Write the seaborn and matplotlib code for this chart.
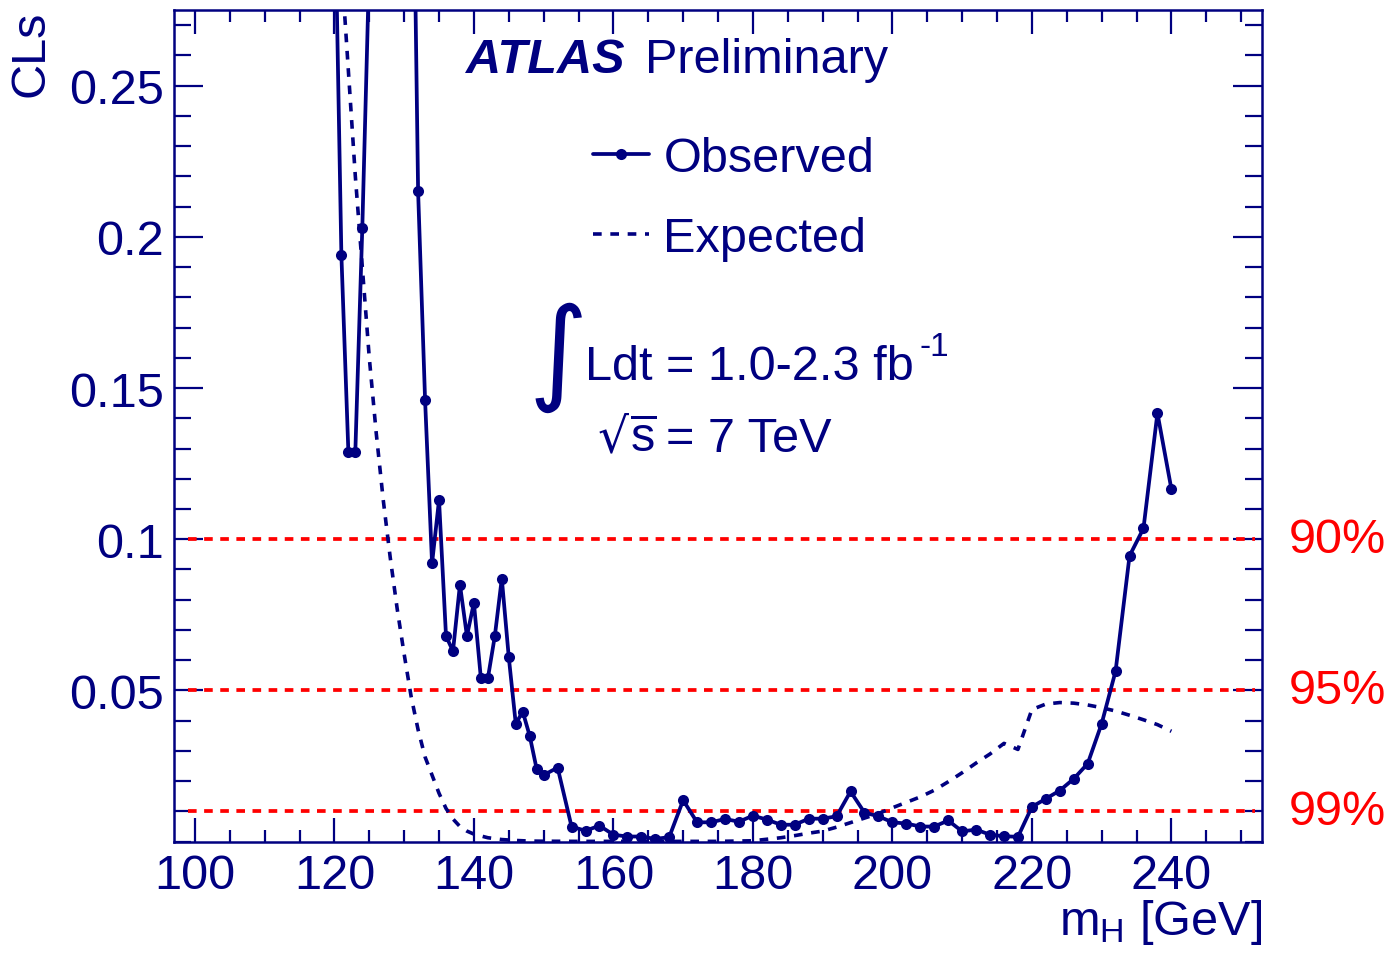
import numpy as np
import pandas as pd
import seaborn as sns
import matplotlib.pyplot as plt
from matplotlib.ticker import MultipleLocator, FixedLocator, FixedFormatter

# observed CLs (1 GeV steps up to 150, then 2 GeV steps)
obs_mass = [120, 121, 122, 123, 124, 125, 126, 127, 128, 129, 130, 131, 132, 133, 134, 135,
            136, 137, 138, 139, 140, 141, 142, 143, 144, 145, 146, 147, 148, 149, 150,
            152, 154, 156, 158, 160, 162, 164, 166, 168, 170, 172, 174, 176, 178, 180,
            182, 184, 186, 188, 190, 192, 194, 196, 198, 200, 202, 204, 206, 208, 210,
            212, 214, 216, 218, 220, 222, 224, 226, 228, 230, 232, 234, 236, 238, 240]
obs_cls = [0.32, 0.194, 0.129, 0.129, 0.203, 0.29, 0.40, 0.50, 0.55, 0.50, 0.45, 0.38, 0.215, 0.146, 0.092, 0.113,
           0.068, 0.063, 0.085, 0.068, 0.079, 0.054, 0.054, 0.068, 0.087, 0.061, 0.039, 0.043, 0.035, 0.024, 0.022,
           0.0245, 0.005, 0.0036, 0.0053, 0.0023, 0.0017, 0.0017, 0.0009, 0.0015, 0.0137, 0.0064, 0.0064, 0.0075, 0.0066, 0.0086,
           0.0073, 0.0056, 0.0056, 0.0076, 0.0076, 0.0084, 0.0166, 0.0096, 0.0084, 0.0064, 0.006, 0.005, 0.005, 0.007, 0.0034,
           0.004, 0.0023, 0.0018, 0.0016, 0.0115, 0.0142, 0.0169, 0.0208, 0.0258, 0.039, 0.0564, 0.0945, 0.1036, 0.1417, 0.1166]

# expected (median) CLs
exp_mass = [118, 120, 121, 122, 123, 124, 125, 126, 127, 128, 129, 130, 131, 132, 133, 134, 135,
            136, 137, 138, 139, 140, 142, 144, 146, 148, 150, 155, 160, 165, 170, 175, 180,
            182, 184, 186, 188, 190, 192, 194, 196, 198, 200, 202, 204, 206, 208, 210,
            212, 214, 216, 218, 220, 222, 224, 226, 228, 230, 232, 234, 236, 238, 240]
exp_cls = [0.45, 0.33, 0.29, 0.255, 0.22, 0.19, 0.16, 0.135, 0.113, 0.094, 0.077, 0.062, 0.048, 0.037, 0.028, 0.022, 0.016,
           0.011, 0.0075, 0.005, 0.0035, 0.0025, 0.0013, 0.0007, 0.0004, 0.0002, 0.00015, 0.0001, 0.0001, 0.0001, 0.0001, 0.0001, 0.0003,
           0.0008, 0.0013, 0.002, 0.0028, 0.0035, 0.0048, 0.0063, 0.0078, 0.0093, 0.0112, 0.013, 0.0148, 0.017, 0.0198, 0.0228,
           0.026, 0.029, 0.0325, 0.0305, 0.0437, 0.0455, 0.046, 0.0458, 0.0452, 0.0443, 0.0432, 0.0418, 0.0403, 0.0387, 0.0365]

cl_levels = [0.1, 0.05, 0.01]
cl_labels = ['90%', '95%', '99%']
y_ticks = [0.05, 0.1, 0.15, 0.2, 0.25]
y_ticklabels = ['0.05', '0.1', '0.15', '0.2', '0.25']

navy = '#000080'

sns.set_theme(style='ticks')
plt.rcParams['font.family'] = ['Liberation Sans', 'DejaVu Sans']
plt.rcParams['mathtext.fontset'] = 'custom'
plt.rcParams['mathtext.rm'] = 'Liberation Sans'
plt.rcParams['mathtext.it'] = 'Liberation Sans:italic'
plt.rcParams['mathtext.bf'] = 'Liberation Sans:bold'

obs_df = pd.DataFrame({'mass': obs_mass, 'cls': obs_cls})
exp_df = pd.DataFrame({'mass': exp_mass, 'cls': exp_cls})

fig = plt.figure(figsize=(13.93, 9.54), dpi=100)
ax = fig.add_axes([0.1249, 0.1167, 0.7811, 0.8718])

ax.hlines(cl_levels, 99, 252, colors='#ff0000', linestyles=(0, (2.3, 2.0)), linewidth=2.7, zorder=2)

sns.lineplot(data=exp_df, x='mass', y='cls', ax=ax, color=navy, linewidth=2.6,
             linestyle=(0, (2.4, 2.4)), label='Expected', zorder=3)
sns.lineplot(data=obs_df, x='mass', y='cls', ax=ax, color=navy, linewidth=2.7,
             marker='o', markersize=8, markeredgewidth=0, label='Observed', zorder=4)

ax.set_xlim(97, 253)
ax.set_ylim(0, 0.275)

ax.xaxis.set_major_locator(MultipleLocator(20))
ax.xaxis.set_minor_locator(MultipleLocator(5))
ax.yaxis.set_major_locator(FixedLocator(y_ticks))
ax.yaxis.set_major_formatter(FixedFormatter(y_ticklabels))
ax.yaxis.set_minor_locator(MultipleLocator(0.01))

ax.tick_params(which='both', direction='in', top=True, right=True, color=navy,
               labelcolor=navy, labelsize=35, width=1.6)
ax.tick_params(axis='x', which='major', length=17, pad=8)
ax.tick_params(axis='x', which='minor', length=8.5)
ax.tick_params(axis='y', which='major', length=21, pad=7)
ax.tick_params(axis='y', which='minor', length=12)
for sp in ax.spines.values():
    sp.set_color(navy)
    sp.set_linewidth(1.8)

ax.set_xlabel('m$_\\mathregular{H}$ [GeV]', fontsize=35, color=navy, loc='right')
ax.xaxis.set_label_coords(1.0, -0.066)
ax.set_ylabel('CLs', fontsize=35, color=navy, loc='top')
ax.yaxis.set_label_coords(-0.111, 1.0)

for lev, lab in zip(cl_levels, cl_labels):
    ax.text(1.0248, lev, lab, transform=ax.get_yaxis_transform(), color='#ff0000',
            fontsize=35, va='center', ha='left')

handles, labels = ax.get_legend_handles_labels()
order = [labels.index('Observed'), labels.index('Expected')]
ax.legend([handles[i] for i in order], [labels[i] for i in order],
          loc='upper left', bbox_to_anchor=(0.385, 0.848), frameon=False,
          fontsize=35, labelcolor=navy, handlelength=1.15, handletextpad=0.3,
          labelspacing=0.72, borderaxespad=0, borderpad=0)

fig.text(0.3345, 0.9235, 'ATLAS', fontsize=35, fontweight='bold', fontstyle='italic',
         color=navy, va='baseline', ha='left')
fig.text(0.463, 0.9235, 'Preliminary', fontsize=35, color=navy, va='baseline', ha='left')
fig.text(0.4005, 0.625, '\u222b', fontsize=82, color=navy, va='center', ha='center',
         family=['DejaVu Sans'])
fig.text(0.42, 0.6017, 'Ldt = 1.0-2.3 fb', fontsize=35, color=navy,
         va='baseline', ha='left')
fig.text(0.660, 0.627, '-1', fontsize=24, color=navy, va='baseline', ha='left')
fig.text(0.4515, 0.5262, '\u221a', fontsize=35, color=navy, va='baseline', ha='right',
         family=['DejaVu Sans'])
fig.text(0.4525, 0.5262, '$\\overline{\\mathregular{s}}$', fontsize=35, color=navy,
         va='baseline', ha='left')
fig.text(0.478, 0.5262, '= 7 TeV', fontsize=35, color=navy, va='baseline', ha='left')

fig.savefig('out.png', dpi=100)
